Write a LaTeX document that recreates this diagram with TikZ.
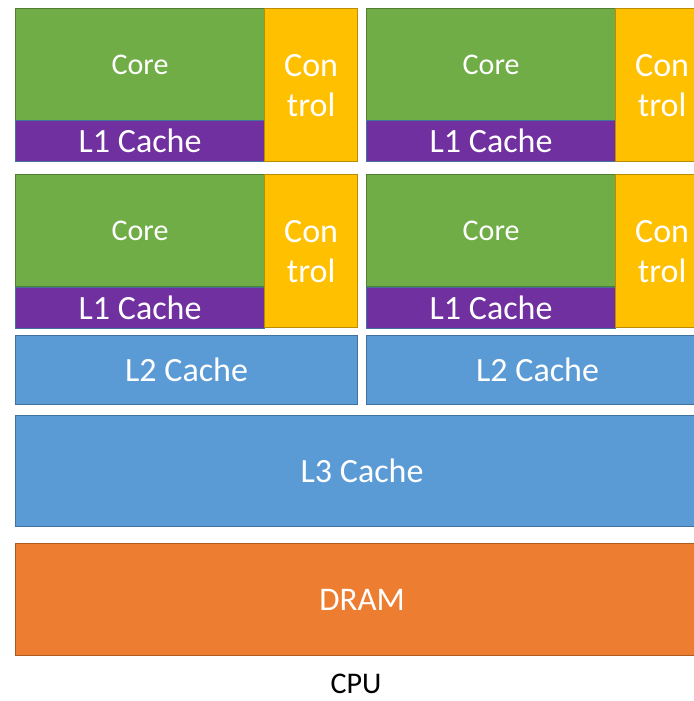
\documentclass[tikz,border=0pt]{standalone}
\usepackage{fontspec}
\setmainfont{Carlito}
\usepackage{tikz}

\definecolor{coregreen}{HTML}{70AD47}
\definecolor{coreline}{HTML}{507E32}
\definecolor{lonepurple}{HTML}{7030A0}
\definecolor{cacheblue}{HTML}{5B9BD5}
\definecolor{blueline}{HTML}{41719C}
\definecolor{ctrlgold}{HTML}{FFC000}
\definecolor{goldline}{HTML}{BC8C00}
\definecolor{dramorange}{HTML}{ED7D31}
\definecolor{orangeline}{HTML}{AE5A21}

\tikzset{
	box/.style={rectangle, anchor=north west, inner sep=0pt, line width=1.2pt, text=white},
	corebox/.style={box, fill=coregreen, draw=coreline, minimum width=249pt, minimum height=112pt, font=\fontsize{30}{34}\selectfont},
	lonebox/.style={box, fill=lonepurple, draw=blueline, minimum width=249pt, minimum height=41pt, font=\fontsize{34}{36}\selectfont},
	ctrlbox/.style={box, fill=ctrlgold, draw=goldline, minimum width=93pt, minimum height=153pt, align=center, font=\fontsize{34}{40}\selectfont},
	ltwobox/.style={box, fill=cacheblue, draw=blueline, minimum width=342pt, minimum height=69pt, font=\fontsize{34}{36}\selectfont},
}

\begin{document}
\begin{tikzpicture}[x=1pt, y=-1pt]
				\useasboundingbox (0, 0) rectangle (693, 701);

				% 上の段
				\node[corebox] (core1) at (15, 8) {Core};
				\node[lonebox] (lone1) at (15, 120) {L1 Cache};
				\node[ctrlbox] (ctrl1) at (264, 8) {Con\\trol};
				\node[corebox] (core2) at (366, 8) {Core};
				\node[lonebox] (lone2) at (366, 120) {L1 Cache};
				\node[ctrlbox] (ctrl2) at (615, 8) {Con\\trol};

				% 下の段
				\node[corebox] (core3) at (15, 174) {Core};
				\node[lonebox] (lone3) at (15, 287) {L1 Cache};
				\node[ctrlbox] (ctrl3) at (264, 174) {Con\\trol};
				\node[corebox] (core4) at (366, 174) {Core};
				\node[lonebox] (lone4) at (366, 287) {L1 Cache};
				\node[ctrlbox] (ctrl4) at (615, 174) {Con\\trol};

				% キャッシュとメモリ
				\node[ltwobox] (ltwo1) at (15, 335) {L2 Cache};
				\node[ltwobox] (ltwo2) at (366, 335) {L2 Cache};
				\node[box, fill=cacheblue, draw=blueline, minimum width=693pt, minimum height=111pt, font=\fontsize{34}{36}\selectfont] (lthree) at (15, 415) {L3 Cache};
				\node[box, fill=dramorange, draw=orangeline, minimum width=693pt, minimum height=112pt, font=\fontsize{33}{36}\selectfont] (dram) at (15, 543) {DRAM};

				\node[inner sep=0pt, font=\fontsize{30}{32}\selectfont] (cpu) at (356, 684) {CPU};

			\end{tikzpicture}
\end{document}
